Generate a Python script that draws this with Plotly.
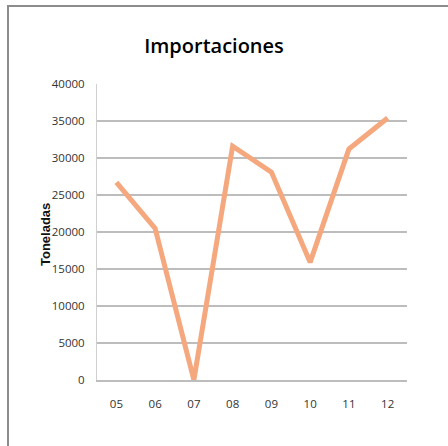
import plotly.graph_objects as go

# Annual imports (tonnes)
years = ["05", "06", "07", "08", "09", "10", "11", "12"]
toneladas = [26700, 20500, 0, 31600, 28100, 15900, 31200, 35400]
y_ticks = [0, 5000, 10000, 15000, 20000, 25000, 30000, 35000, 40000]

W, H = 448, 446
ML, MR, MT, MB = 97, 41, 84, 66
PW, PH = W - ML - MR, H - MT - MB


def px_x(px):
    return (px - ML) / PW


def px_y(py):
    return (H - MB - py) / PH


fig = go.Figure(
    go.Scatter(
        x=years,
        y=toneladas,
        mode="lines",
        line=dict(color="#F5A77D", width=5),
        hoverinfo="x+y",
    )
)

tick_font = dict(family="Open Sans", size=11.5, color="#333333")

fig.update_layout(
    width=W,
    height=H,
    margin=dict(l=ML, r=MR, t=MT, b=MB),
    paper_bgcolor="white",
    plot_bgcolor="white",
    showlegend=False,
    title=dict(
        text="Importaciones",
        x=214 / W,
        xanchor="center",
        y=1 - 46 / H,
        yanchor="middle",
        font=dict(family="Open Sans", size=20, weight=600, color="#000000"),
    ),
    xaxis=dict(
        type="category",
        tickvals=years,
        showgrid=False,
        showline=True,
        linecolor="#BDBDBD",
        linewidth=2,
        ticks="",
        ticklabelstandoff=12,
        tickfont=tick_font,
        range=[-0.5, len(years) - 0.5],
        fixedrange=True,
    ),
    yaxis=dict(
        range=[0, 40000],
        tickvals=y_ticks,
        ticktext=[str(v) for v in y_ticks],
        showgrid=True,
        gridcolor="#BDBDBD",
        gridwidth=1.5,
        showline=True,
        linecolor="#D0D0D0",
        linewidth=1,
        zeroline=False,
        ticks="",
        ticklabelstandoff=9,
        tickfont=tick_font,
        fixedrange=True,
    ),
    annotations=[
        dict(
            text="Toneladas",
            xref="paper",
            yref="paper",
            x=px_x(45),
            y=px_y(234),
            xanchor="center",
            yanchor="middle",
            textangle=-90,
            showarrow=False,
            font=dict(family="Liberation Sans", size=13, weight="bold", color="#111111"),
        )
    ],
    shapes=[
        # chart-area frame: top and left edges
        dict(
            type="line", xref="paper", yref="paper",
            x0=px_x(7), x1=px_x(W + 5), y0=px_y(6), y1=px_y(6),
            line=dict(color="#8C8C8C", width=2),
        ),
        dict(
            type="line", xref="paper", yref="paper",
            x0=px_x(8), x1=px_x(8), y0=px_y(6), y1=px_y(H + 5),
            line=dict(color="#8C8C8C", width=2),
        ),
    ],
)

fig.write_html("out.html")
